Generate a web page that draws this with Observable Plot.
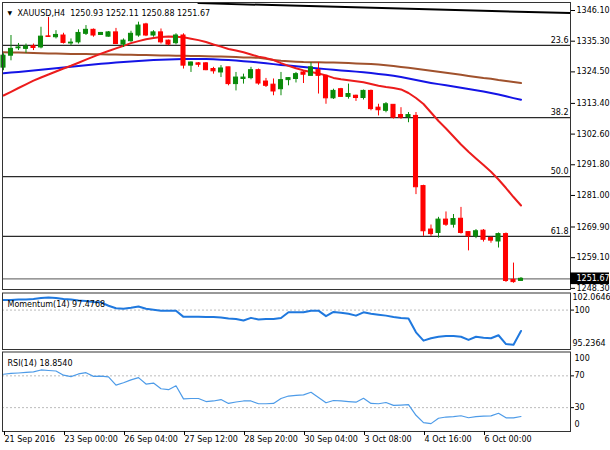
<!DOCTYPE html>
<html>
<head>
<meta charset="utf-8">
<script src="https://cdn.jsdelivr.net/npm/d3@7"></script>
<script src="https://cdn.jsdelivr.net/npm/@observablehq/plot@0.6"></script>
<style>
  body { margin: 0; background: #fff; }
  #chart { width: 610px; }
  #chart svg { display: block; }
</style>
</head>
<body>
<div id="chart"></div>
<script>
// XAUUSD H4 velas (open / high / low / close)
const opens = [1326.0,1330.2,1332.8,1332.6,1333.5,1333.1,1337.0,1336.7,1337.3,1334.5,1334.9,1337.9,1339.3,1337.5,1336.9,1338.4,1334.1,1335.3,1337.3,1341.2,1337.3,1338.4,1335.5,1334.6,1337.3,1326.7,1327.5,1327.5,1325.5,1324.3,1326.1,1320.2,1322.0,1322.3,1325.1,1321.1,1320.0,1318.4,1321.6,1322.0,1324.3,1323.1,1325.1,1323.1,1315.2,1318.4,1315.7,1316.1,1315.3,1317.8,1311.9,1310.8,1312.9,1309.3,1308.6,1309.0,1284.3,1269.0,1267.8,1272.5,1270.7,1272.8,1268.1,1266.6,1268.6,1266.0,1264.8,1267.4,1251.3,1250.93]
const highs = [1330.9,1337.3,1334.5,1334.3,1334.3,1340.2,1343.7,1339.0,1338.1,1336.1,1339.3,1340.8,1339.6,1338.4,1338.7,1339.8,1336.1,1338.8,1342.0,1341.6,1339.0,1339.6,1335.7,1337.9,1337.9,1328.0,1327.8,1327.8,1326.1,1326.7,1326.1,1324.3,1323.7,1326.1,1325.5,1322.2,1322.0,1324.3,1322.5,1324.3,1324.6,1327.8,1327.8,1323.3,1318.4,1318.7,1320.2,1316.3,1318.1,1318.1,1313.1,1313.7,1312.9,1311.9,1310.2,1310.2,1284.6,1270.6,1273.3,1275.2,1274.3,1276.8,1268.1,1269.0,1269.0,1266.4,1267.8,1267.8,1257.2,1252.11]
const lows = [1324.9,1328.4,1332.0,1331.0,1332.0,1332.6,1336.6,1336.1,1334.3,1333.7,1334.3,1337.3,1336.7,1337.3,1336.7,1334.1,1333.1,1334.9,1336.7,1336.9,1336.7,1334.3,1333.7,1334.0,1325.5,1324.3,1326.1,1324.9,1323.7,1322.5,1319.6,1317.8,1320.2,1321.7,1319.8,1319.0,1316.1,1316.1,1319.6,1320.6,1320.4,1323.1,1316.7,1313.1,1314.8,1315.5,1314.9,1314.1,1314.6,1310.8,1309.0,1310.1,1307.9,1307.8,1306.6,1281.3,1266.6,1266.6,1266.0,1270.1,1269.5,1267.4,1261.5,1265.8,1264.6,1264.2,1262.5,1250.4,1250.1,1250.88]
const closes = [1330.2,1332.6,1333.1,1333.4,1332.9,1336.9,1336.8,1337.5,1334.7,1334.8,1338.2,1339.3,1337.3,1338.2,1338.4,1334.3,1335.5,1337.9,1340.8,1337.3,1338.4,1334.9,1334.1,1337.3,1326.7,1327.8,1327.0,1325.1,1324.7,1325.7,1320.2,1322.5,1322.5,1325.1,1320.4,1319.6,1317.6,1321.6,1322.3,1323.7,1323.5,1326.1,1323.1,1315.2,1317.8,1315.7,1316.7,1315.3,1317.8,1311.4,1311.0,1313.1,1308.4,1308.4,1309.3,1283.9,1268.4,1267.4,1272.5,1270.7,1272.7,1267.8,1266.6,1268.4,1265.4,1265.1,1267.4,1250.9,1250.5,1251.67]

// medias moviles
const smaRed = [1316.18,1317.48,1318.82,1320.12,1321.43,1322.52,1323.57,1324.63,1325.68,1326.67,1327.73,1328.82,1329.87,1330.93,1331.84,1332.76,1333.67,1334.63,1335.33,1336.0,1336.46,1336.74,1336.95,1336.84,1336.70,1336.17,1335.68,1335.01,1334.13,1333.39,1332.58,1332.02,1331.39,1330.61,1329.87,1329.35,1328.68,1327.59,1326.60,1325.76,1325.02,1324.49,1323.96,1323.26,1322.38,1321.88,1321.53,1321.21,1320.86,1320.23,1319.63,1319.17,1318.82,1318.33,1317.06,1315.30,1313.19,1310.20,1307.21,1304.57,1301.75,1298.94,1296.36,1294.0,1291.72,1289.33,1286.61,1283.62,1280.45,1277.46]
const smaBlue = [1324.03,1324.28,1324.49,1324.73,1324.98,1325.23,1325.51,1325.75,1326.04,1326.28,1326.57,1326.81,1327.09,1327.34,1327.55,1327.76,1327.97,1328.18,1328.36,1328.50,1328.64,1328.78,1328.85,1328.92,1328.99,1329.03,1329.03,1328.99,1328.92,1328.78,1328.64,1328.47,1328.25,1328.04,1327.80,1327.51,1327.23,1326.95,1326.71,1326.46,1326.21,1325.97,1325.72,1325.47,1325.23,1325.02,1324.80,1324.59,1324.38,1324.10,1323.78,1323.47,1323.15,1322.69,1322.17,1321.64,1321.11,1320.62,1320.19,1319.77,1319.35,1318.89,1318.47,1318.05,1317.59,1317.06,1316.53,1315.90,1315.27,1314.67]
const smaBrown = [1331.42,1331.35,1331.28,1331.21,1331.14,1331.07,1331.00,1330.93,1330.89,1330.82,1330.79,1330.75,1330.72,1330.68,1330.65,1330.61,1330.54,1330.51,1330.44,1330.40,1330.33,1330.30,1330.26,1330.19,1330.16,1330.08,1330.05,1329.98,1329.94,1329.87,1329.80,1329.70,1329.59,1329.52,1329.45,1329.10,1328.68,1328.43,1328.25,1328.08,1327.94,1327.90,1327.87,1327.83,1327.80,1327.69,1327.59,1327.48,1327.37,1327.30,1327.09,1326.85,1326.56,1326.25,1325.93,1325.61,1325.26,1324.88,1324.53,1324.17,1323.82,1323.47,1323.08,1322.69,1322.34,1322.06,1321.64,1321.29,1320.94,1320.58]

// linea de tendencia (dos puntos)
const trendIdx = [26, 75.6]
const trendPrice = [1348.7, 1345.2]

// niveles de Fibonacci
const fibLevels = [1333.8, 1308.4, 1287.6, 1266.6]
const fibLabels = ["23.6", "38.2", "50.0", "61.8"]

// indicadores
const momentum = [101.23,101.23,101.29,101.29,101.35,101.47,101.51,101.47,101.35,101.29,101.17,101.11,100.99,100.94,100.52,100.22,100.16,100.28,100.44,100.16,100.05,99.93,99.93,99.93,99.18,99.18,99.18,99.16,99.16,99.10,98.98,98.92,98.74,99.06,98.86,98.92,98.92,99.04,99.73,99.73,99.73,99.93,99.93,99.27,99.77,99.69,99.55,99.33,99.73,99.57,99.45,99.33,99.16,99.04,98.98,97.31,96.31,96.60,96.78,96.88,96.88,96.78,96.39,96.78,96.66,96.60,96.96,95.89,95.81,97.4768]
const rsi = [72.0,73.0,73.6,74.3,74.9,77.4,76.7,76.1,70.8,69.1,72.4,74.0,69.3,69.6,68.7,58.4,61.3,65.0,67.8,59.7,60.9,53.8,52.6,57.5,41.1,41.5,41.5,37.7,38.4,40.2,35.3,37.1,38.4,38.4,34.9,34.9,35.3,41.5,44.6,45.5,46.0,49.3,42.7,36.1,39.0,38.4,37.7,36.9,41.8,35.3,34.9,36.5,32.8,33.2,33.7,20.4,11.1,9.9,16.7,18.2,18.6,19.8,17.3,18.6,19.4,19.7,22.9,17.2,17.2,18.854]

// ejes
const priceTicks = [1346.10, 1335.30, 1324.50, 1313.40, 1302.60, 1291.80, 1281.00, 1269.90, 1259.10, 1248.30]
const momRange = [95.2364, 102.0646]
const rsiLevels = [70, 30]
const xTickIdx = [0, 8, 16, 24, 32, 40, 48, 56, 64]
const xTickLabels = ["21 Sep 2016", "23 Sep 00:00", "26 Sep 04:00", "27 Sep 12:00", "28 Sep 20:00", "30 Sep 04:00", "3 Oct 08:00", "4 Oct 16:00", "6 Oct 00:00"]

const xDomain = [-0.133, 75.6]
const estilo = {fontFamily: "DejaVu Sans, sans-serif", fontSize: "8px", color: "#000", background: "#fff", overflow: "visible"}
const verde = "#0b8a0b", rojo = "#ff0000"

const bars = opens.map((o, i) => ({i, open: o, high: highs[i], low: lows[i], close: closes[i]}))
const colorVela = d => d.close >= d.open ? verde : rojo
const serie = vals => vals.map((v, i) => ({i, v}))
const trend = trendIdx.map((i, k) => ({i, p: trendPrice[k]}))
const ultima = bars[bars.length - 1]
const header = `XAUUSD,H4\u00a0\u00a0${ultima.open.toFixed(2)} ${ultima.high.toFixed(2)} ${ultima.low.toFixed(2)} ${ultima.close.toFixed(2)}`

// Panel principal: velas + medias + fibo
const chartMain = Plot.plot({
  width: 610, height: 290,
  marginLeft: 2, marginRight: 40, marginTop: 2, marginBottom: 1,
  style: estilo,
  x: {domain: xDomain, axis: null, label: null},
  y: {domain: [1247.9, 1348.92], label: null},
  marks: [
    Plot.ruleY(fibLevels, {stroke: "#2a2a2a", strokeWidth: 1.2}),
    Plot.text(fibLevels, {x: xDomain[1], y: d => d, text: (d, i) => fibLabels[i], textAnchor: "end", dx: -2, dy: -5}),
    Plot.ruleY([ultima.close], {stroke: "#777", strokeWidth: 1.2}),
    Plot.line(serie(smaBrown), {x: "i", y: "v", stroke: "#a0522d", strokeWidth: 2}),
    Plot.line(serie(smaBlue), {x: "i", y: "v", stroke: "#1414e6", strokeWidth: 2}),
    Plot.line(serie(smaRed), {x: "i", y: "v", stroke: "#ec1c1c", strokeWidth: 2}),
    Plot.line(trend, {x: "i", y: "p", stroke: "#000", strokeWidth: 2, clip: true}),
    Plot.ruleX(bars, {x: "i", y1: "low", y2: "high", stroke: colorVela}),
    Plot.rect(bars, {x1: d => d.i - 0.27, x2: d => d.i + 0.27, y1: "open", y2: "close", fill: colorVela, stroke: colorVela}),
    Plot.frame({stroke: "#333"}),
    Plot.axisY({anchor: "right", ticks: priceTicks, tickFormat: d => d.toFixed(2), tickSize: 4, tickPadding: 2, label: null}),
    Plot.rect([ultima.close], {x1: xDomain[1], x2: xDomain[1] + 5.2, y1: d => d - 2.05, y2: d => d + 2.05, fill: "#000"}),
    Plot.text([ultima.close], {x: xDomain[1], y: d => d, text: d => d.toFixed(2), dx: 6, textAnchor: "start", fill: "#fff"}),
    Plot.text(["\u25BC"], {frameAnchor: "top-left", text: d => d, dx: 5, dy: 8, textAnchor: "start", fontSize: 6}),
    Plot.text([header], {frameAnchor: "top-left", text: d => d, dx: 15, dy: 8, textAnchor: "start"})
  ]
})

// Momentum(14)
const chartMom = Plot.plot({
  width: 610, height: 61,
  marginLeft: 2, marginRight: 40, marginTop: 2.5, marginBottom: 2,
  style: estilo,
  x: {domain: xDomain, axis: null, label: null},
  y: {domain: momRange, label: null},
  marks: [
    Plot.ruleY([100], {stroke: "#bbb", strokeDasharray: "2,2"}),
    Plot.line(serie(momentum), {x: "i", y: "v", stroke: "#1f78de", strokeWidth: 2}),
    Plot.text([`Momentum(14) ${momentum[momentum.length - 1].toFixed(4)}`], {frameAnchor: "top-left", text: d => d, dx: 5, dy: 8.5, textAnchor: "start"}),
    Plot.frame({stroke: "#333"}),
    Plot.axisY({anchor: "right", ticks: [100], tickFormat: d => String(d), tickSize: 3, tickPadding: 1, label: null}),
    Plot.text([momRange[1]], {frameAnchor: "right", y: d => d, text: d => d.toFixed(4), dx: 2, dy: 4, textAnchor: "start"}),
    Plot.text([momRange[0]], {frameAnchor: "right", y: d => d, text: d => d.toFixed(4), dx: 2, dy: -6, textAnchor: "start"})
  ]
})

// RSI(14)
const chartRsi = Plot.plot({
  width: 610, height: 99,
  marginLeft: 2, marginRight: 40, marginTop: 0.5, marginBottom: 19,
  style: estilo,
  x: {domain: xDomain, label: null},
  y: {domain: [0, 100], label: null},
  marks: [
    Plot.ruleY(rsiLevels, {stroke: "#bbb", strokeDasharray: "2,2"}),
    Plot.line(serie(rsi), {x: "i", y: "v", stroke: "#4d9be8", strokeWidth: 1.2}),
    Plot.text([`RSI(14) ${rsi[rsi.length - 1].toFixed(4)}`], {frameAnchor: "top-left", text: d => d, dx: 5, dy: 8.5, textAnchor: "start"}),
    Plot.frame({stroke: "#333"}),
    Plot.axisY({anchor: "right", ticks: rsiLevels, tickFormat: d => String(d), tickSize: 3, tickPadding: 1, label: null}),
    Plot.text([100], {frameAnchor: "right", y: d => d, text: d => String(d), dx: 4, dy: 6.5, textAnchor: "start"}),
    Plot.text([0], {frameAnchor: "right", y: d => d, text: d => String(d), dx: 4, dy: -7, textAnchor: "start"}),
    Plot.axisX({ticks: xTickIdx, tickFormat: i => xTickLabels[xTickIdx.indexOf(i)], tickSize: 4, tickPadding: 1, textAnchor: "start", dx: 1, label: null})
  ]
})

const cont = document.getElementById("chart")
cont.append(chartMain, chartMom, chartRsi)
</script>
</body>
</html>
